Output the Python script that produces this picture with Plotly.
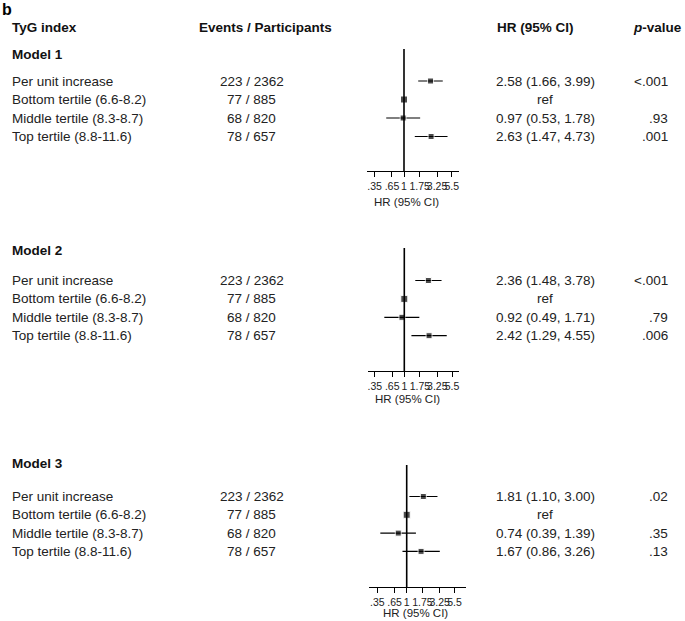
import plotly.graph_objects as go

# ---------------- data ----------------
row_labels = ["Per unit increase", "Bottom tertile (6.6-8.2)",
              "Middle tertile (8.3-8.7)", "Top tertile (8.8-11.6)"]
events = ["223 / 2362", "77 / 885", "68 / 820", "78 / 657"]
model_names = ["Model 1", "Model 2", "Model 3"]

m1_hr = [2.58, 1.00, 0.97, 2.63]
m1_lo = [1.66, None, 0.53, 1.47]
m1_hi = [3.99, None, 1.78, 4.73]
m1_p = ["<.001", "", ".93", ".001"]

m2_hr = [2.36, 1.00, 0.92, 2.42]
m2_lo = [1.48, None, 0.49, 1.29]
m2_hi = [3.78, None, 1.71, 4.55]
m2_p = ["<.001", "", ".79", ".006"]

m3_hr = [1.81, 1.00, 0.74, 1.67]
m3_lo = [1.10, None, 0.39, 0.86]
m3_hi = [3.00, None, 1.39, 3.26]
m3_p = [".02", "", ".35", ".13"]

tick_vals = [0.35, 0.65, 1, 1.75, 3.25, 5.5]
tick_text = [".35", ".65", "1", "1.75", "3.25", "5.5"]

models = [(m1_hr, m1_lo, m1_hi, m1_p), (m2_hr, m2_lo, m2_hi, m2_p), (m3_hr, m3_lo, m3_hi, m3_p)]

# ---------------- layout constants (pixels) ----------------
W, H = 685, 621
PX_PER_DEC = 64.5
FONT = "Liberation Sans, Arial, sans-serif"
panels = [
    dict(top=49, axis=171, row0=81, step=18.5, xl=367, x1=404, xr=458.5, tly=202, tlx=406.5, my=55),
    dict(top=248, axis=371, row0=280.5, step=18.4, xl=367.5, x1=404.3, xr=458.5, tly=398.5, tlx=407.5, my=250),
    dict(top=465, axis=587, row0=496.5, step=18.3, xl=368.5, x1=406.7, xr=466, tly=612.5, tlx=415, my=463),
]

def px(x):
    return x / W

def py(y):
    return 1 - y / H

fig = go.Figure()
annotations = []
shapes = []
layout_axes = {}

for k, ((hr, lo, hi, pv), pn) in enumerate(zip(models, panels), start=1):
    xa = "x" if k == 1 else f"x{k}"
    ya = "y" if k == 1 else f"y{k}"
    rows = list(range(len(hr)))
    minus = [(v - l) if l is not None else 0 for v, l in zip(hr, lo)]
    plus = [(h - v) if h is not None else 0 for v, h in zip(hr, hi)]
    sizes = [7 if l is None else 6 for l in lo]
    fig.add_trace(go.Scatter(
        x=hr, y=rows, mode="markers", xaxis=xa, yaxis=ya,
        marker=dict(symbol="square", size=sizes, color="black"),
        error_x=dict(type="data", symmetric=False, array=plus, arrayminus=minus,
                     width=0, thickness=1.2, color="black"),
        showlegend=False, hoverinfo="skip"))

    key_x = "xaxis" if k == 1 else f"xaxis{k}"
    key_y = "yaxis" if k == 1 else f"yaxis{k}"
    layout_axes[key_x] = dict(
        type="log", domain=[px(pn["xl"]), px(pn["xr"])],
        range=[(pn["xl"] - pn["x1"]) / PX_PER_DEC, (pn["xr"] - pn["x1"]) / PX_PER_DEC],
        anchor=ya, showline=True, linecolor="black", linewidth=1,
        ticks="outside", ticklen=5, tickwidth=1, tickcolor="black",
        tickvals=tick_vals, ticktext=tick_text, tickangle=0,
        tickfont=dict(family=FONT, size=10.5, color="#222"),
        showgrid=False, zeroline=False, fixedrange=True)
    layout_axes[key_y] = dict(
        domain=[py(pn["axis"]), py(pn["top"])],
        range=[(pn["axis"] - pn["row0"]) / pn["step"], (pn["top"] - pn["row0"]) / pn["step"]],
        anchor=xa, visible=False, fixedrange=True)

    # reference line at HR = 1
    shapes.append(dict(type="line", xref=xa, yref=f"{ya} domain", x0=1, x1=1, y0=0, y1=1,
                       line=dict(color="black", width=1.6)))

    # axis title
    annotations.append(dict(text="HR (95% CI)", x=px(pn["tlx"]), y=py(pn["tly"]),
                            xref="paper", yref="paper", showarrow=False,
                            xanchor="center", yanchor="middle",
                            font=dict(family=FONT, size=11.5, color="#222")))
    # model title
    annotations.append(dict(text=f"<b>{model_names[k-1]}</b>", x=px(10), y=py(pn["my"]),
                            xref="paper", yref="paper", showarrow=False,
                            xanchor="left", yanchor="middle",
                            font=dict(family=FONT, size=13.5, color="#111")))
    for i in rows:
        base = dict(yref=ya, y=i, xref="paper", showarrow=False, yanchor="middle",
                    font=dict(family=FONT, size=13.5, color="#222"))
        annotations.append(dict(base, text=row_labels[i], x=px(10), xanchor="left"))
        annotations.append(dict(base, text=events[i], x=px(252), xanchor="center"))
        hr_txt = "ref" if lo[i] is None else f"{hr[i]:.2f} ({lo[i]:.2f}, {hi[i]:.2f})"
        annotations.append(dict(base, text=hr_txt, x=px(545), xanchor="center"))
        if pv[i]:
            annotations.append(dict(base, text=pv[i], x=px(670), xanchor="right"))

# headers
hdr = dict(xref="paper", yref="paper", showarrow=False, yanchor="middle",
           font=dict(family=FONT, size=13.5, color="#111"))
annotations.append(dict(hdr, text="<b>b</b>", x=px(0), y=py(10), xanchor="left",
                        font=dict(family=FONT, size=16, color="black")))
annotations.append(dict(hdr, text="<b>TyG index</b>", x=px(10), y=py(28), xanchor="left"))
annotations.append(dict(hdr, text="<b>Events / Participants</b>", x=px(265), y=py(28), xanchor="center"))
annotations.append(dict(hdr, text="<b>HR (95% CI)</b>", x=px(535), y=py(28), xanchor="center"))
annotations.append(dict(hdr, text="<b><i>p</i>-value</b>", x=px(657.5), y=py(28), xanchor="center"))

fig.update_layout(
    width=W, height=H, autosize=False,
    margin=dict(l=0, r=0, t=0, b=0, pad=0),
    paper_bgcolor="white", plot_bgcolor="white",
    annotations=annotations, shapes=shapes, showlegend=False,
    **layout_axes)

fig.write_html("out.html", config={"displayModeBar": False},
               post_script="document.body.style.margin='0';document.body.style.padding='0';"
                           "document.body.style.overflow='hidden';")
